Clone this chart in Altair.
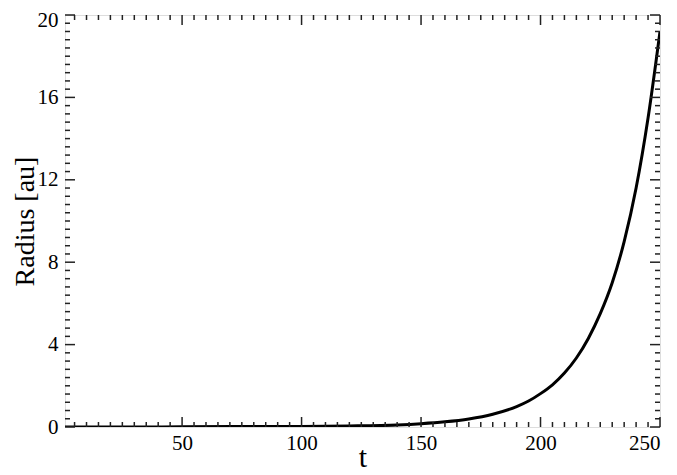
import altair as alt
import pandas as pd

# curve
t_vals = [1, 25, 50, 75, 100, 120, 140, 150, 160, 170, 180, 190, 195, 200,
          205, 210, 215, 220, 225, 230, 235, 240, 245, 250]
r_vals = [0.0, 0.0, 0.01, 0.02, 0.03, 0.05, 0.10, 0.16, 0.25, 0.39, 0.62, 0.99,
          1.26, 1.62, 2.05, 2.62, 3.35, 4.3, 5.5, 7.0, 9.0, 11.6, 15.0, 19.2]

x_major = [50, 100, 150, 200, 250]
x_minor = [v for v in range(5, 250, 5) if v % 50 != 0]
y_major = [0, 4, 8, 12, 16, 20]
y_minor = [round(i * 0.4, 1) for i in range(1, 50) if i % 10 != 0]

W, H = 595, 412
FONT = "Liberation Serif"

df = pd.DataFrame({"t": t_vals, "r": r_vals})
xs = alt.Scale(domain=[1, 250], nice=False, zero=False)
ys = alt.Scale(domain=[0, 20], nice=False)

line = alt.Chart(df).mark_line(color="black", strokeWidth=3, interpolate="monotone", clip=True).encode(
    x=alt.X("t:Q", scale=xs, title="t",
            axis=alt.Axis(values=x_major, ticks=False, domain=False, grid=False,
                          labelFont=FONT, labelFontSize=21, labelColor="black", labelPadding=5,
                          titleFont=FONT, titleFontSize=30, titleFontWeight="normal",
                          titleColor="black", titlePadding=-11)),
    y=alt.Y("r:Q", scale=ys, title="Radius [au]",
            axis=alt.Axis(values=y_major, ticks=False, domain=False, grid=False,
                          labelFont=FONT, labelFontSize=21, labelColor="black", labelPadding=7,
                          labelOffset=alt.ExprRef("datum.value == 20 ? 5 : 0"),
                          titleFont=FONT, titleFontSize=28, titleFontWeight="normal",
                          titleColor="black", titlePadding=-2)),
)

def xticks(vals, length):
    d = pd.DataFrame({"v": vals})
    bottom = alt.Chart(d).mark_rule(color="#222", strokeWidth=1.5).encode(
        x=alt.X("v:Q", scale=xs), y=alt.value(H), y2=alt.value(H - length))
    top = alt.Chart(d).mark_rule(color="#222", strokeWidth=1.5).encode(
        x=alt.X("v:Q", scale=xs), y=alt.value(0), y2=alt.value(length))
    return [bottom, top]

def yticks(vals, length):
    d = pd.DataFrame({"v": vals})
    left = alt.Chart(d).mark_rule(color="#222", strokeWidth=1.5).encode(
        y=alt.Y("v:Q", scale=ys), x=alt.value(0), x2=alt.value(length))
    right = alt.Chart(d).mark_rule(color="#222", strokeWidth=1.5).encode(
        y=alt.Y("v:Q", scale=ys), x=alt.value(W), x2=alt.value(W - length))
    return [left, right]

layers = [line] + xticks(x_major, 10) + xticks(x_minor, 5) + yticks(y_major, 10) + yticks(y_minor, 5)

chart = alt.layer(*layers).properties(
    width=W, height=H,
    autosize=alt.AutoSizeParams(type="none"),
    padding={"left": 57, "top": 7, "right": 9, "bottom": 48},
).configure_view(stroke="black", strokeWidth=2).configure(background="white")

chart.save("out.html", embed_options={"renderer": "svg", "actions": False})
